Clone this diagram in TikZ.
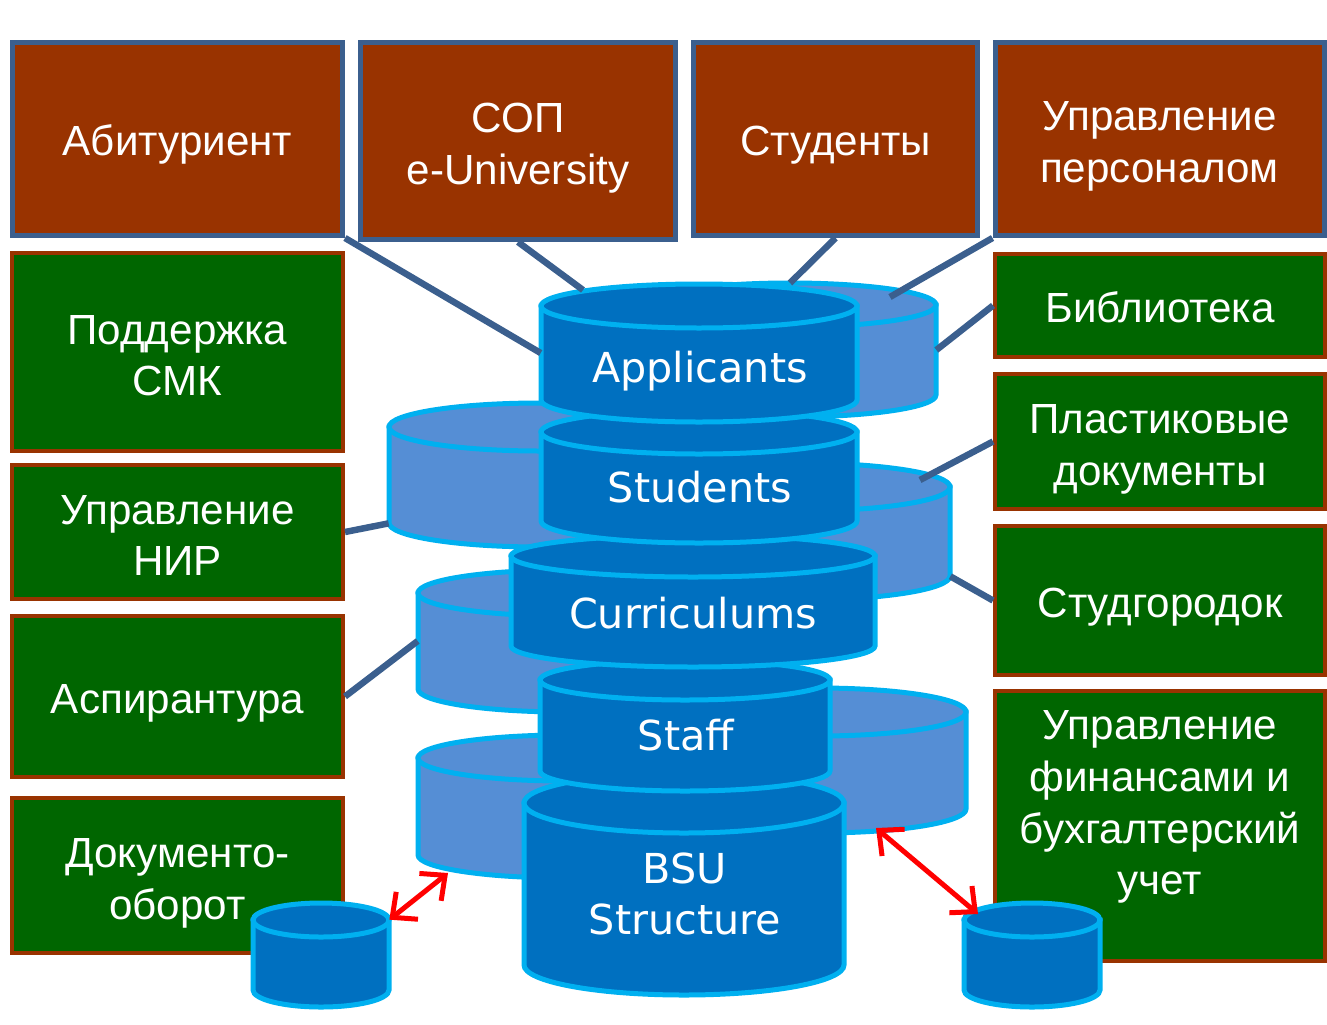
\documentclass[tikz,border=0pt]{standalone}
\usepackage{fontspec}
\setmainfont{Liberation Sans}
\newfontfamily\cylfont{DejaVu Sans}
\usetikzlibrary{arrows.meta,fit}
\definecolor{boxbrown}{HTML}{993300}
\definecolor{boxgreen}{HTML}{006600}
\definecolor{linkblue}{HTML}{3B5F8E}
\definecolor{cylrim}{HTML}{00B0F0}
\definecolor{cyldark}{HTML}{0070C0}
\definecolor{cyllight}{HTML}{558ED5}
\newcommand{\boxstrut}{\rule[-4.6pt]{0pt}{28.6pt}}
\newcommand{\pair}[2]{\rule{0pt}{25pt}#1\\#2}
% cylinder: name, cx, top y, bottom y, rx, ry, fill
\newcommand{\dbcyl}[7]{%
  \filldraw[draw=cylrim,fill=#7,line width=0.1cm] (#2-#5,#3) -- (#2-#5,#4)
    arc[start angle=180,end angle=0,x radius=#5,y radius=#6] -- (#2+#5,#3) -- cycle;
  \filldraw[draw=cylrim,fill=#7,line width=0.1cm] (#2,#3) ellipse[x radius=#5,y radius=#6];
  \node[inner sep=0pt,fit={(#2-#5,#3) (#2+#5,#4)}] (#1) {};
}

\begin{document}
\begin{tikzpicture}[x=0.02cm,y=-0.02cm,
  topbox/.style={draw=linkblue,line width=0.1cm,fill=boxbrown,text=white,align=center,inner sep=0pt,
    font=\fontsize{24}{29.5}\selectfont,execute at begin node=\boxstrut,execute at end node=\boxstrut},
  sidebox/.style={topbox,draw=boxbrown,line width=0.08cm,fill=boxgreen},
  cyltext/.style={text=white,align=center,font=\cylfont\fontsize{23.5}{29.5}\selectfont},
  link/.style={linkblue,line width=0.13cm},
  sync/.style={red,line width=0.1cm,
    arrows={Straight Barb[length=0.38cm,width=0.7cm]-Straight Barb[length=0.38cm,width=0.7cm]}}]
\useasboundingbox (0,0) rectangle (1327,1024);

% subsystems
\foreach \n/\x/\y/\w/\h/\t in {abit/177.5/139/330/193/{Абитуриент},
    sop/518/141/315/197/{\pair{СОП}{e-University}},
    stud/835.5/139/284/193/{Студенты},
    kadr/1159.5/139/329/193/{\pair{Управление}{персоналом}}}
  \node[topbox,minimum width=\w*0.02cm,minimum height=\h*0.02cm] (\n) at (\x,\y) {\t};
\foreach \n/\x/\y/\w/\h/\t in {smk/177.5/352/331/198/{\pair{Поддержка}{СМК}},
    nir/177.5/532/331/134/{\pair{Управление}{НИР}},
    asp/177.5/696.5/331/161/{Аспирантура},
    doc/177.5/875.5/331/155/{\pair{Документо-}{оборот}},
    bib/1160/305.5/330/103/{Библиотека},
    plast/1160/441.5/330/135/{\pair{Пластиковые}{документы}},
    gorod/1160/600.5/330/149/{Студгородок},
    fin/1160/826/330/270/{}}
  \node[sidebox,minimum width=\w*0.02cm,minimum height=\h*0.02cm] (\n) at (\x,\y) {\t};
\node[topbox,draw=none,fill=none] (fin-txt) at (1160,807) {Управление\\финансами и\\бухгалтерский\\учет};

% databases
\dbcyl{l1}{790}{305}{395}{146}{22}{cyllight}
\dbcyl{l2}{540}{427}{523}{151}{24}{cyllight}
\dbcyl{l3}{800}{487}{576}{150}{24}{cyllight}
\dbcyl{l4}{565}{593}{689}{147}{23}{cyllight}
\dbcyl{l5}{818}{712}{809}{148}{24}{cyllight}
\dbcyl{l6}{565}{758}{855}{147}{23}{cyllight}
\dbcyl{bsu}{684}{803}{965}{160}{30}{cyldark}
\dbcyl{staff}{685}{680}{771}{145}{20}{cyldark}
\dbcyl{curr}{693}{556}{646}{182}{21}{cyldark}
\dbcyl{studs}{699}{432}{521}{158}{22}{cyldark}
\dbcyl{app}{699}{306}{400}{158}{22}{cyldark}
\dbcyl{s1}{321}{920}{990}{68}{17}{cyldark}
\dbcyl{s2}{1032}{920}{990}{68}{17}{cyldark}
\node[cyltext] (app-txt) at (700,371) {Applicants};
\node[cyltext] (studs-txt) at (700,487) {Students};
\node[cyltext] (curr-txt) at (693,613) {Curriculums};
\node[cyltext] (staff-txt) at (686,735) {Staff};
\node[cyltext] (bsu-txt) at (685,894) {BSU\\Structure};

% links
\coordinate (app-rim) at (583,290);
\coordinate (l1-rim) at (790,283);
\coordinate (l1-cap) at (890,297);
\coordinate (l3-cap) at (920,480);
\coordinate (l5-foot) at (876,828);
\coordinate (l6-foot) at (448,873);
\coordinate (s2-lip) at (978,914);
\draw[link] (abit.south east) -- (app.west);
\draw[link] (sop.south) -- (app-rim);
\draw[link] (stud.south) -- (l1-rim);
\draw[link] (kadr.south west) -- (l1-cap);
\draw[link] (bib.west) -- (l1.east);
\draw[link] (plast.west) -- (l3-cap);
\draw[link] (gorod.west) -- (l3.south east);
\draw[link] (nir.east) -- (l2.south west);
\draw[link] (asp.east) -- (l4.west);
\draw[sync] (s1.north east) -- (l6-foot);
\draw[sync] (l5-foot) -- (s2-lip);
\end{tikzpicture}
\end{document}
